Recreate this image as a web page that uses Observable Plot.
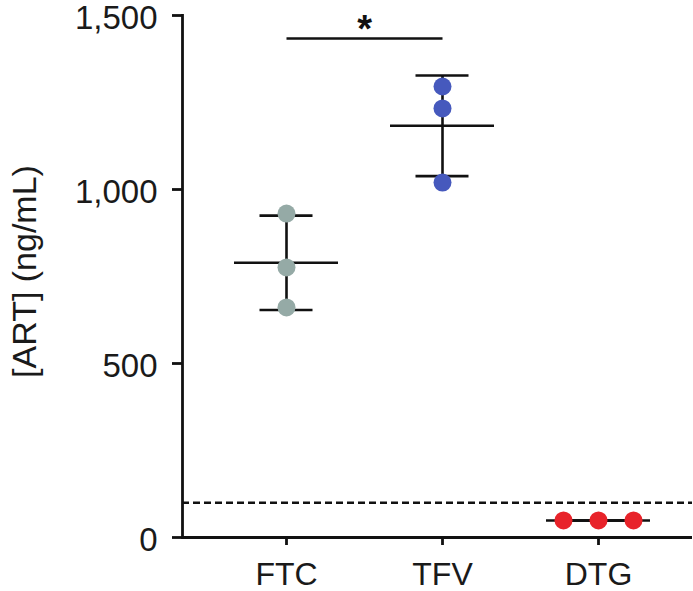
<!DOCTYPE html>
<html><head><meta charset="utf-8">
<script src="https://cdn.jsdelivr.net/npm/d3@7"></script>
<script src="https://cdn.jsdelivr.net/npm/@observablehq/plot@0.6"></script>
<style>
html,body{margin:0;padding:0;background:#fff}
g[aria-label="frame"], g[aria-label="frame"] *,
g[aria-label="y-axis tick"], g[aria-label="y-axis tick"] *,
g[aria-label="x-axis tick"], g[aria-label="x-axis tick"] * {stroke-width:2.8px !important; stroke:#111 !important}
</style>
</head><body><div id="chart"></div>
<script>
// ---- data ----
const categories = ["FTC", "TFV", "DTG"];
const ftcValues = [931, 776, 661];
const tfvValues = [1296, 1233, 1020];
const dtgValues = [49, 49, 49];
const yTicks = [0, 500, 1000, 1500];
const yTickLabels = ["0", "500", "1,000", "1,500"];
const thresholdValues = [100];
const significance = [{from: "FTC", to: "TFV", value: 1434, label: "*"}];
const yTitle = ["[ART] (ng/mL)"];
const categoryColors = ["#95aaa6", "#4659bd", "#e8232a"];

// ---- build table ----
const seriesByCat = {FTC: ftcValues, TFV: tfvValues, DTG: dtgValues};
const points = [];
categories.forEach(c => seriesByCat[c].forEach((v, i) => points.push({cat: c, value: v, rep: i})));
const stats = categories.map(c => {
  const vals = seriesByCat[c];
  const m = d3.mean(vals), sd = d3.deviation(vals) || 0;
  return {cat: c, mean: m, lo: m - sd, hi: m + sd};
});
const yTickRows = yTicks.map((v, i) => ({value: v, label: yTickLabels[i]}));

// layout parameters (scale settings)
const bandW = 104, stepW = 156.5, capInset = 25.5, dodgeStep = 35;
const padIn = 1 - bandW / stepW;

// dots: identical replicates get dodged horizontally
const dotMarks = [];
categories.forEach((c, ci) => {
  const vals = seriesByCat[c];
  const allSame = vals.every(v => v === vals[0]);
  vals.forEach((v, i) => {
    dotMarks.push(Plot.dot(points.filter(p => p.cat === c && p.rep === i), {
      x: "cat", y: "value", r: 9, fill: categoryColors[ci], stroke: "none",
      dx: allSame ? (i - (vals.length - 1) / 2) * dodgeStep : 0
    }));
  });
});

const lw = 2.6;
const plot = Plot.plot({
  width: 693, height: 591,
  marginLeft: 182, marginRight: 1, marginTop: 15, marginBottom: 54,
  style: {fontFamily: "'Liberation Sans', Arial, sans-serif", fontSize: "32px", color: "#1a1a1a", background: "#fff", overflow: "visible"},
  x: {type: "band", domain: categories, range: [233, 650], paddingInner: padIn, paddingOuter: 0, align: 0.5},
  y: {domain: [0, 1500]},
  marks: [
    Plot.frame({anchor: "left", strokeWidth: 2.8, stroke: "#111"}),
    Plot.ruleY([0], {strokeWidth: 2.8, stroke: "#111"}),
    Plot.ruleY(thresholdValues, {strokeWidth: 2.4, stroke: "#111", strokeDasharray: "7,4"}),
    Plot.axisY(yTicks, {tickSize: 10, strokeWidth: 2.8, tickFormat: () => "", label: null}),
    Plot.text(yTickRows, {y: "value", text: "label", frameAnchor: "left", textAnchor: "end", dx: -25, dy: 3, fontSize: 33, fill: "#1a1a1a"}),
    Plot.axisX({tickSize: 8, tickPadding: 17, strokeWidth: 2.8, fontSize: 32, fill: "#1a1a1a", label: null}),
    Plot.text(yTitle, {frameAnchor: "left", rotate: -90, dx: -157, dy: -5, fontSize: 34, fill: "#1a1a1a", textAnchor: "middle", lineAnchor: "middle"}),
    Plot.ruleX(stats, {x: "cat", y1: "lo", y2: "hi", strokeWidth: lw, stroke: "#111"}),
    Plot.tickY(stats, {x: "cat", y: "mean", strokeWidth: lw, stroke: "#111"}),
    Plot.tickY(stats, {x: "cat", y: "lo", strokeWidth: lw, stroke: "#111", insetLeft: capInset, insetRight: capInset}),
    Plot.tickY(stats, {x: "cat", y: "hi", strokeWidth: lw, stroke: "#111", insetLeft: capInset, insetRight: capInset}),
    ...dotMarks,
    Plot.link(significance, {x1: "from", x2: "to", y1: "value", y2: "value", strokeWidth: lw, stroke: "#111"}),
    Plot.text(significance, {x: "from", y: "value", text: "label", dx: stepW / 2, dy: -9, fontSize: 38, fontWeight: "bold", fill: "#111"})
  ]
});
document.getElementById("chart").appendChild(plot);
</script>
</body></html>
